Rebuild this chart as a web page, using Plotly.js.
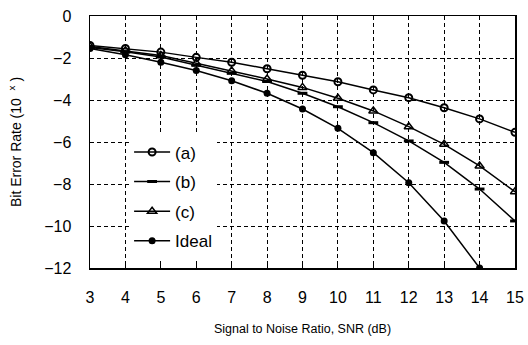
<!DOCTYPE html>
<html>
<head>
<meta charset="utf-8">
<script src="https://cdn.plot.ly/plotly-3.0.1.min.js"></script>
<style>html,body{margin:0;padding:0;background:#fff;}#chart{width:528px;height:345px;}</style>
</head>
<body>
<div id="chart"></div>
<script>
const snr = [3, 4, 5, 6, 7, 8, 9, 10, 11, 12, 13, 14, 15];
const snrIdeal = [3, 4, 5, 6, 7, 8, 9, 10, 11, 12, 13, 14];
const berA = [-1.40, -1.55, -1.72, -1.97, -2.20, -2.51, -2.82, -3.13, -3.52, -3.89, -4.37, -4.90, -5.54];
const berB = [-1.50, -1.70, -1.95, -2.35, -2.73, -3.12, -3.68, -4.32, -5.08, -5.95, -6.97, -8.24, -9.76];
const berC = [-1.45, -1.65, -1.88, -2.25, -2.62, -3.00, -3.40, -3.92, -4.52, -5.27, -6.11, -7.14, -8.37];
const berIdeal = [-1.55, -1.85, -2.20, -2.60, -3.08, -3.68, -4.43, -5.35, -6.51, -7.94, -9.76, -12.0];
const names = ['(a)', '(b)', '(c)', 'Ideal'];
const xTicks = [3, 4, 5, 6, 7, 8, 9, 10, 11, 12, 13, 14, 15];
const yTicks = [0, -2, -4, -6, -8, -10, -12];

const lineStyle = {color: '#000', width: 1.5};
const traces = [
  {x: snr, y: berA, name: names[0], legendgroup: 'a', mode: 'lines+markers', line: lineStyle,
   marker: {symbol: 'circle-open', size: 7, color: '#000', line: {width: 2, color: '#000'}}},
  {x: snr, y: berB, name: names[1], legendgroup: 'b', mode: 'lines+markers', line: lineStyle,
   marker: {symbol: 'line-ew-open', size: 7, color: '#000', line: {width: 3, color: '#000'}}},
  {x: snr, y: berC, name: names[2], legendgroup: 'c', mode: 'lines+markers', line: lineStyle,
   marker: {symbol: 'triangle-up-open', size: 8, color: '#000', line: {width: 1.5, color: '#000'}}},
  {x: snrIdeal, y: berIdeal, name: names[3], legendgroup: 'd', mode: 'lines+markers', line: lineStyle,
   cliponaxis: true, marker: {symbol: 'circle', size: 7, color: '#000'}}
];

const layout = {
  width: 528, height: 345,
  margin: {l: 90, r: 13, t: 16, b: 77},
  paper_bgcolor: '#fff', plot_bgcolor: '#fff',
  font: {family: 'Liberation Sans, Arial, sans-serif', color: '#000'},
  showlegend: true,
  legend: {x: 0.092, y: 0.53, xanchor: 'left', yanchor: 'top', bgcolor: '#fff',
           borderwidth: 0, font: {size: 17, color: '#000'}, itemwidth: 36,
           traceorder: 'grouped', tracegroupgap: 4.5},
  xaxis: {
    range: [3, 15], tickvals: xTicks, ticktext: xTicks.map(String),
    showline: true, linecolor: '#000', linewidth: 1.5, mirror: true,
    ticks: 'inside', ticklen: 4, tickcolor: '#000',
    showgrid: true, gridcolor: 'rgb(0,0,0)', griddash: '4px,3px', gridwidth: 1,
    zeroline: false, tickfont: {size: 16}, ticklabelstandoff: 14,
    title: {text: 'Signal to Noise Ratio, SNR (dB)', font: {size: 12.5}, standoff: 19}
  },
  yaxis: {
    range: [-12, 0], tickvals: yTicks, ticktext: yTicks.map(v => v === 0 ? '0' : '\u2212' + Math.abs(v)),
    showline: true, linecolor: '#000', linewidth: 1.5, mirror: true,
    ticks: 'inside', ticklen: 4, tickcolor: '#000',
    showgrid: true, gridcolor: 'rgb(0,0,0)', griddash: '4px,3px', gridwidth: 1,
    zeroline: false, tickfont: {size: 16}, ticklabelstandoff: 14,
    title: {text: 'Bit Error Rate (10  <sup>x</sup> )', font: {size: 14}, standoff: 19}
  }
};

Plotly.newPlot('chart', traces, layout, {displayModeBar: false, staticPlot: true});
</script>
</body>
</html>
